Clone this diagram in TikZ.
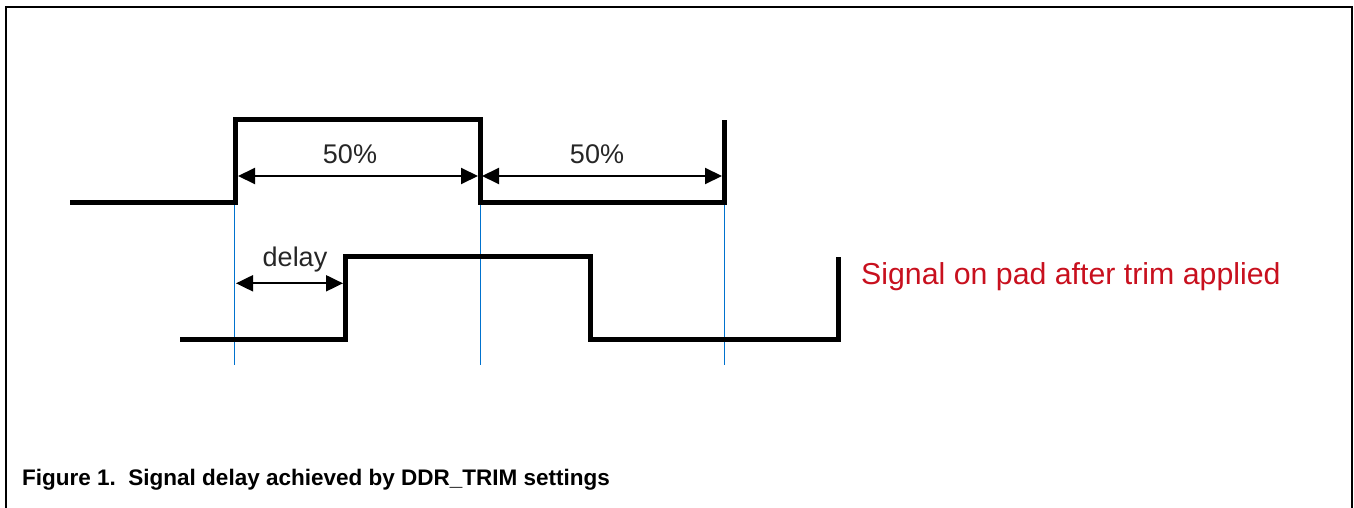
\documentclass[tikz,border=0pt]{standalone}
\usepackage{fontspec}
\setmainfont{Liberation Sans}
\usetikzlibrary{arrows.meta}
\definecolor{guide}{RGB}{0,114,206}
\definecolor{trimred}{RGB}{200,16,30}
\definecolor{lblgray}{RGB}{38,38,38}
\begin{document}
\begin{tikzpicture}[x=1pt,y=-1pt,
  sig/.style={line width=5pt, line join=miter},
  dimarrow/.style={line width=2pt, {Triangle[length=17pt,width=16pt]}-{Triangle[length=17pt,width=16pt]}},
  guideline/.style={guide, line width=1.4pt},
  lbl/.style={font=\fontsize{27}{30}\selectfont, text=lblgray, anchor=base, inner sep=0pt},
  frame/.style={line width=2pt}]
\useasboundingbox (0,0) rectangle (1354,508);
\draw[frame] (6,508) -- (6,7) -- (1352,7) -- (1352,508);
% guide lines
\coordinate (g1t) at (234.3,202);
\coordinate (g1b) at (234.3,365);
\coordinate (g2t) at (480.3,202);
\coordinate (g2b) at (480.3,365);
\coordinate (g3t) at (724.5,202);
\coordinate (g3b) at (724.5,365);
\draw[guideline] (g1t) -- (g1b);
\draw[guideline] (g2t) -- (g2b);
\draw[guideline] (g3t) -- (g3b);
% reference signal
\coordinate (a0) at (70,202.5);
\coordinate (a1) at (235.5,202.5);
\coordinate (a2) at (235.5,120);
\coordinate (a3) at (480.2,120);
\coordinate (a4) at (480.2,202.5);
\coordinate (a5) at (724,202.5);
\coordinate (a6) at (724,120);
\draw[sig] (a0) -- (a1) -- (a2) -- (a3) -- (a4) -- (a5) -- (a6);
% delayed signal
\coordinate (b0) at (180,339.5);
\coordinate (b1) at (345,339.5);
\coordinate (b2) at (345,256.3);
\coordinate (b3) at (590,256.3);
\coordinate (b4) at (590,339.5);
\coordinate (b5) at (838,339.5);
\coordinate (b6) at (838,257);
\draw[sig] (b0) -- (b1) -- (b2) -- (b3) -- (b4) -- (b5) -- (b6);
% dimension arrows
\coordinate (d1l) at (238,176);
\coordinate (d1r) at (478,176);
\coordinate (d2l) at (482,176);
\coordinate (d2r) at (722,176);
\coordinate (d3l) at (236,283.3);
\coordinate (d3r) at (343,283.3);
\draw[dimarrow] (d1l) -- (d1r);
\draw[dimarrow] (d2l) -- (d2r);
\draw[dimarrow] (d3l) -- (d3r);
% labels
\node[lbl] (p1) at (350,163) {50\%};
\node[lbl] (p2) at (597,163) {50\%};
\node[lbl] (dl) at (295,266) {delay};
\node[anchor=base west, inner sep=0pt, text=trimred, font=\fontsize{30.3}{33}\selectfont] (sig) at (861,284) {Signal on pad after trim applied};
\node[anchor=base west, inner sep=0pt, font=\bfseries\fontsize{22.5}{26}\selectfont] (cap) at (22,485) {Figure 1.\ \ Signal delay achieved by DDR\_TRIM settings};
\end{tikzpicture}
\end{document}
